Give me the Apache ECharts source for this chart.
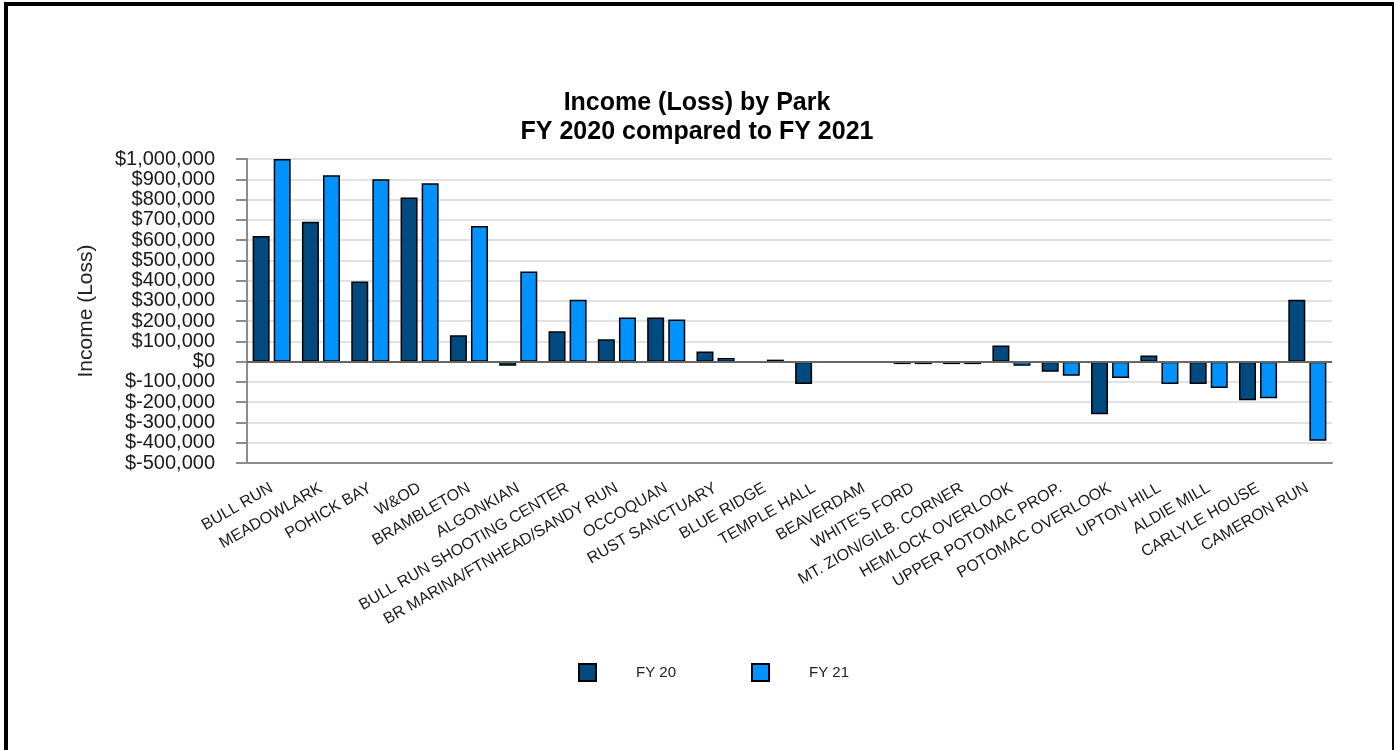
<!DOCTYPE html>
<html>
<head>
<meta charset="utf-8">
<script src="https://cdn.jsdelivr.net/npm/echarts@6/dist/echarts.min.js"></script>
<style>
html,body{margin:0;padding:0;background:#fff;}
#chart{width:1394px;height:750px;}
</style>
</head>
<body>
<div id="chart"></div>
<script>
const categories = ['BULL RUN','MEADOWLARK','POHICK BAY','W&OD','BRAMBLETON','ALGONKIAN','BULL RUN SHOOTING CENTER','BR MARINA/FTNHEAD/SANDY RUN','OCCOQUAN','RUST SANCTUARY','BLUE RIDGE','TEMPLE HALL','BEAVERDAM',"WHITE'S FORD",'MT. ZION/GILB. CORNER','HEMLOCK OVERLOOK','UPPER POTOMAC PROP.','POTOMAC OVERLOOK','UPTON HILL','ALDIE MILL','CARLYLE HOUSE','CAMERON RUN'];
const fy20 = [620000, 690000, 395000, 810000, 130000, -20000, 150000, 110000, 218000, 50000, 0, -110000, 0, -12000, -12000, 80000, -50000, -260000, 30000, -110000, -190000, 305000];
const fy21 = [1000000, 920000, 900000, 880000, 670000, 445000, 305000, 218000, 208000, 18000, 10000, 0, 0, -12000, -12000, -20000, -70000, -80000, -110000, -130000, -180000, -390000];
const seriesNames = ['FY 20', 'FY 21'];
const yMin = -500000, yMax = 1000000, yStep = 100000;

const chart = echarts.init(document.getElementById('chart'));
const FONT = "'Liberation Sans', Arial, sans-serif";
function money(v){
  return '$' + (v < 0 ? '-' : '') + Math.abs(v).toLocaleString('en-US');
}
chart.setOption({
  animation: false,
  backgroundColor: '#fff',
  title: {
    text: 'Income (Loss) by Park\nFY 2020 compared to FY 2021',
    left: 'center',
    top: 84,
    textStyle: {fontFamily: FONT, fontSize: 25, fontWeight: 'bold', color: '#000', lineHeight: 29}
  },
  legend: {
    data: seriesNames,
    left: 573,
    top: 658,
    icon: 'rect',
    itemWidth: 17,
    itemHeight: 17,
    itemGap: 75,
    textStyle: {fontFamily: FONT, fontSize: 15, color: '#222', padding: [0,0,0,35]}
  },
  grid: {left: 247, right: 62, top: 159, bottom: 287, containLabel: false},
  xAxis: {
    type: 'category',
    data: categories,
    axisLine: {onZero: false, lineStyle: {color: '#8c8c8c', width: 2}},
    axisTick: {show: false},
    axisLabel: {interval: 0, rotate: 30, fontFamily: FONT, fontSize: 16, color: '#1a1a1a', margin: 24}
  },
  yAxis: {
    type: 'value',
    min: yMin, max: yMax, interval: yStep,
    name: 'Income (Loss)',
    nameLocation: 'middle',
    nameGap: 150,
    nameTextStyle: {fontFamily: FONT, fontSize: 21, color: '#222'},
    axisLine: {show: true, lineStyle: {color: '#8c8c8c', width: 2}},
    axisTick: {show: true, length: 11, lineStyle: {color: '#8c8c8c', width: 2}},
    axisLabel: {fontFamily: FONT, fontSize: 20, color: '#1a1a1a', margin: 32, formatter: money, hideOverlap: false},
    splitLine: {show: true, lineStyle: {color: '#e2e2e2', width: 2}}
  },
  series: [
    {
      name: seriesNames[0], type: 'bar', data: fy20, barWidth: 17, barGap: '24%',
      itemStyle: {color: '#004A7F', borderColor: '#000', borderWidth: 1.5},
      markLine: {silent: true, symbol: 'none', label: {show: false}, lineStyle: {color: '#666', width: 2, type: 'solid'}, data: [{yAxis: 0}]}
    },
    {
      name: seriesNames[1], type: 'bar', data: fy21, barWidth: 17, barGap: '24%',
      itemStyle: {color: '#0093FF', borderColor: '#000', borderWidth: 1.5}
    }
  ],
  graphic: [{
    type: 'rect', z: 100, silent: true,
    shape: {x: 6, y: 4, width: 1388, height: 760},
    style: {fill: 'none', stroke: '#000', lineWidth: 4}
  }]
});
</script>
</body>
</html>
